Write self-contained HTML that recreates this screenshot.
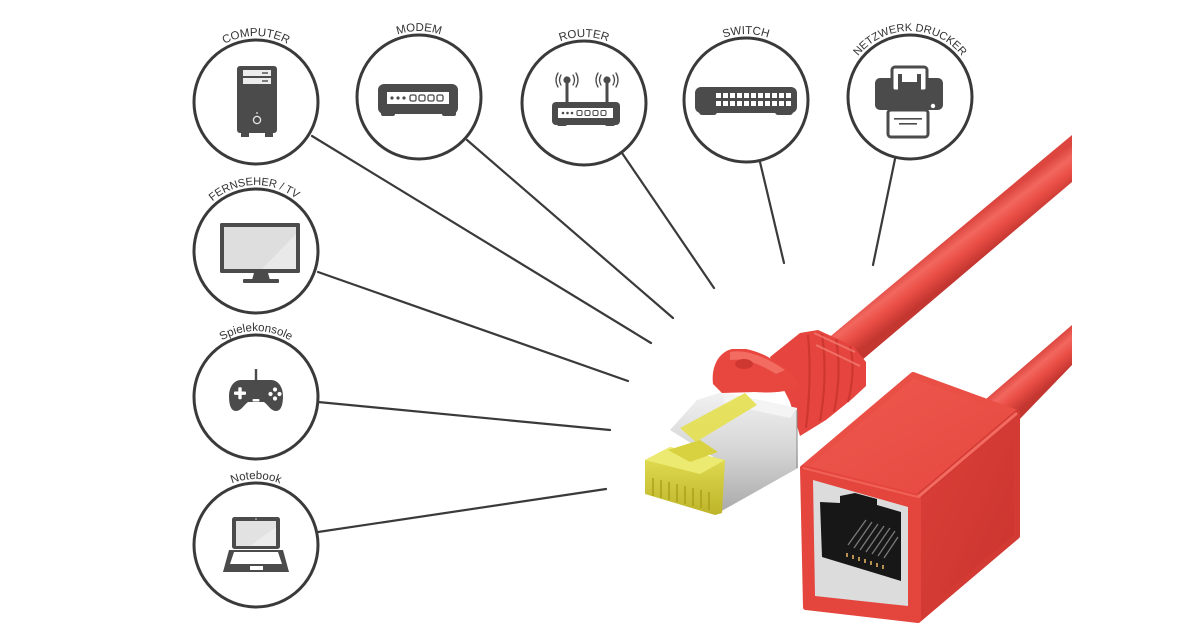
<!DOCTYPE html>
<html>
<head>
<meta charset="utf-8">
<style>
html,body{margin:0;padding:0;background:#fff;}
svg{display:block;}
.lbl{font-family:"Liberation Sans",sans-serif;font-size:11.5px;fill:#333;}
</style>
</head>
<body>
<svg width="1200" height="630" viewBox="0 0 1200 630" xmlns="http://www.w3.org/2000/svg">
<defs>
  <path id="a1" d="M190,102 A66,66 0 0 1 322,102"/>
  <path id="a2" d="M353,97 A66,66 0 0 1 485,97"/>
  <path id="a3" d="M518,103 A66,66 0 0 1 650,103"/>
  <path id="a4" d="M680,100 A66,66 0 0 1 812,100"/>
  <path id="a5" d="M844,97 A66,66 0 0 1 976,97"/>
  <path id="a6" d="M190,251 A66,66 0 0 1 322,251"/>
  <path id="a7" d="M190,397 A66,66 0 0 1 322,397"/>
  <path id="a8" d="M190,545 A66,66 0 0 1 322,545"/>
  <linearGradient id="cab1" gradientUnits="userSpaceOnUse" x1="950" y1="236" x2="972" y2="265">
    <stop offset="0" stop-color="#dc463f"/>
    <stop offset="0.3" stop-color="#f2675e"/>
    <stop offset="0.6" stop-color="#ea4e45"/>
    <stop offset="1" stop-color="#c43630"/>
  </linearGradient>
  <linearGradient id="cab2" gradientUnits="userSpaceOnUse" x1="1040" y1="352" x2="1060" y2="376">
    <stop offset="0" stop-color="#dc463f"/>
    <stop offset="0.3" stop-color="#f2675e"/>
    <stop offset="0.6" stop-color="#ea4e45"/>
    <stop offset="1" stop-color="#c43630"/>
  </linearGradient>
  <linearGradient id="topf" x1="0" y1="0" x2="1" y2="1">
    <stop offset="0" stop-color="#ee5a50"/>
    <stop offset="1" stop-color="#e6473f"/>
  </linearGradient>
  <linearGradient id="rightf" x1="0" y1="0" x2="1" y2="1">
    <stop offset="0" stop-color="#dc4038"/>
    <stop offset="1" stop-color="#c8342e"/>
  </linearGradient>
  <linearGradient id="silver" x1="0" y1="0" x2="0" y2="1">
    <stop offset="0" stop-color="#f2f2f2"/>
    <stop offset="0.5" stop-color="#d4d4d4"/>
    <stop offset="1" stop-color="#a9a9a9"/>
  </linearGradient>
  <linearGradient id="yel" x1="0" y1="0" x2="0" y2="1">
    <stop offset="0" stop-color="#e6e25a"/>
    <stop offset="1" stop-color="#bdb428"/>
  </linearGradient>
</defs>

<!-- connector lines -->
<g stroke="#3a3a3a" stroke-width="2.2" stroke-linecap="round" fill="none">
  <line x1="312" y1="136" x2="651" y2="343"/>
  <line x1="467" y1="140" x2="673" y2="318"/>
  <line x1="622" y1="153" x2="714" y2="288"/>
  <line x1="760" y1="162" x2="784" y2="263"/>
  <line x1="895" y1="159" x2="873" y2="265"/>
  <line x1="318" y1="272" x2="628" y2="381"/>
  <line x1="318" y1="402" x2="610" y2="430"/>
  <line x1="318" y1="532" x2="606" y2="489"/>
</g>

<!-- circles -->
<g stroke="#3a3a3a" stroke-width="3" fill="#fff">
  <circle cx="256" cy="102" r="62"/>
  <circle cx="419" cy="97" r="62"/>
  <circle cx="584" cy="103" r="62"/>
  <circle cx="746" cy="100" r="62"/>
  <circle cx="910" cy="97" r="62"/>
  <circle cx="256" cy="251" r="62"/>
  <circle cx="256" cy="397" r="62"/>
  <circle cx="256" cy="545" r="62"/>
</g>

<!-- labels -->
<text class="lbl"><textPath href="#a1" startOffset="50%" text-anchor="middle">COMPUTER</textPath></text>
<text class="lbl"><textPath href="#a2" startOffset="50%" text-anchor="middle">MODEM</textPath></text>
<text class="lbl"><textPath href="#a3" startOffset="50%" text-anchor="middle">ROUTER</textPath></text>
<text class="lbl"><textPath href="#a4" startOffset="50%" text-anchor="middle">SWITCH</textPath></text>
<text class="lbl" style="font-size:11px"><textPath href="#a5" startOffset="50%" text-anchor="middle">NETZWERK  DRUCKER</textPath></text>
<text class="lbl" style="font-size:11px"><textPath href="#a6" startOffset="49%" text-anchor="middle">FERNSEHER / TV</textPath></text>
<text class="lbl"><textPath href="#a7" startOffset="50%" text-anchor="middle">Spielekonsole</textPath></text>
<text class="lbl"><textPath href="#a8" startOffset="50%" text-anchor="middle">Notebook</textPath></text>

<!-- icons -->
<g fill="#4b4b4b">
  <!-- computer -->
  <rect x="237" y="66" width="40" height="67" rx="3"/>
  <rect x="241" y="133" width="8" height="4"/>
  <rect x="265" y="133" width="8" height="4"/>
  <rect x="243" y="70" width="28" height="6" fill="#ececec"/>
  <rect x="243" y="78" width="28" height="6" fill="#ececec"/>
  <rect x="262" y="72.3" width="6" height="1.4"/>
  <rect x="262" y="80.3" width="6" height="1.4"/>
  <circle cx="257" cy="120" r="3.6" fill="none" stroke="#e6e6e6" stroke-width="1.3"/>
  <circle cx="257" cy="113" r="0.9" fill="#e6e6e6"/>

  <!-- modem -->
  <rect x="378" y="84" width="80" height="30" rx="6"/>
  <rect x="381" y="110" width="14" height="6" rx="2"/>
  <rect x="442" y="110" width="14" height="6" rx="2"/>
  <rect x="387" y="92" width="62" height="12" fill="#fff"/>
  <circle cx="392" cy="98" r="1.6"/>
  <circle cx="398" cy="98" r="1.6"/>
  <circle cx="404" cy="98" r="1.6"/>
  <g fill="none" stroke="#4b4b4b" stroke-width="1.3">
    <rect x="410" y="95" width="6" height="6" rx="1.5"/>
    <rect x="419" y="95" width="6" height="6" rx="1.5"/>
    <rect x="428" y="95" width="6" height="6" rx="1.5"/>
    <rect x="437" y="95" width="6" height="6" rx="1.5"/>
  </g>

  <!-- router -->
  <rect x="552" y="102" width="68" height="23" rx="4"/>
  <rect x="557" y="121" width="10" height="5" rx="2"/>
  <rect x="605" y="121" width="10" height="5" rx="2"/>
  <rect x="558" y="108" width="55" height="10" fill="#fff"/>
  <circle cx="563" cy="113" r="1.3"/>
  <circle cx="567.5" cy="113" r="1.3"/>
  <circle cx="572" cy="113" r="1.3"/>
  <g fill="none" stroke="#4b4b4b" stroke-width="1.1">
    <rect x="577" y="110.5" width="5" height="5" rx="1.2"/>
    <rect x="585" y="110.5" width="5" height="5" rx="1.2"/>
    <rect x="593" y="110.5" width="5" height="5" rx="1.2"/>
    <rect x="601" y="110.5" width="5" height="5" rx="1.2"/>
  </g>
  <rect x="565.5" y="80" width="3" height="23"/>
  <rect x="605.5" y="80" width="3" height="23"/>
  <circle cx="567" cy="80" r="3.6"/>
  <circle cx="607" cy="80" r="3.6"/>
  <g fill="none" stroke="#4b4b4b" stroke-width="1.3" stroke-linecap="round">
    <path d="M561,75 Q558,80 561,85"/><path d="M558,73 Q554,80 558,87"/>
    <path d="M573,75 Q576,80 573,85"/><path d="M576,73 Q580,80 576,87"/>
    <path d="M601,75 Q598,80 601,85"/><path d="M598,73 Q594,80 598,87"/>
    <path d="M613,75 Q616,80 613,85"/><path d="M616,73 Q620,80 616,87"/>
  </g>

  <!-- switch -->
  <rect x="695" y="87" width="102" height="26" rx="6"/>
  <rect x="699" y="108" width="18" height="7" rx="3"/>
  <rect x="775" y="108" width="18" height="7" rx="3"/>
  <g fill="#fff">
    <rect x="716" y="93" width="5" height="5"/><rect x="723" y="93" width="5" height="5"/><rect x="730" y="93" width="5" height="5"/><rect x="737" y="93" width="5" height="5"/><rect x="744" y="93" width="5" height="5"/><rect x="751" y="93" width="5" height="5"/><rect x="758" y="93" width="5" height="5"/><rect x="765" y="93" width="5" height="5"/><rect x="772" y="93" width="5" height="5"/><rect x="779" y="93" width="5" height="5"/><rect x="786" y="93" width="5" height="5"/>
    <rect x="716" y="101" width="5" height="5"/><rect x="723" y="101" width="5" height="5"/><rect x="730" y="101" width="5" height="5"/><rect x="737" y="101" width="5" height="5"/><rect x="744" y="101" width="5" height="5"/><rect x="751" y="101" width="5" height="5"/><rect x="758" y="101" width="5" height="5"/><rect x="765" y="101" width="5" height="5"/><rect x="772" y="101" width="5" height="5"/><rect x="779" y="101" width="5" height="5"/><rect x="786" y="101" width="5" height="5"/>
  </g>

  <!-- printer -->
  <rect x="875" y="78" width="68" height="32" rx="5"/>
  <rect x="892" y="67" width="35" height="24" rx="3" fill="#fff" stroke="#4b4b4b" stroke-width="3"/>
  <rect x="898" y="74" width="4" height="16"/>
  <rect x="917" y="74" width="4" height="16"/>
  <rect x="902" y="82" width="15" height="8"/>
  <circle cx="933" cy="106" r="2.2" fill="#fff"/>
  <rect x="888" y="110" width="40" height="27" rx="3" fill="#fff" stroke="#4b4b4b" stroke-width="3"/>
  <rect x="894" y="118" width="28" height="1.6"/>
  <rect x="899" y="123" width="18" height="1.6"/>

  <!-- tv -->
  <rect x="220" y="223" width="80" height="50" rx="1.5"/>
  <rect x="224" y="227" width="72" height="42" fill="#dedede"/>
  <polygon points="262,269 296,234 296,269" fill="#e9e9e9"/>
  <polygon points="254,273 268,273 270,280 252,280"/>
  <rect x="243" y="279" width="36" height="4" rx="1"/>

  <!-- controller -->
  <rect x="254.8" y="369" width="2.4" height="12"/>
  <path d="M241,380 C234,380 229,387 229,396 C229,405 231,411 236,411 C241,411 244,405 248,402 L264,402 C268,405 271,411 276,411 C281,411 283,405 283,396 C283,387 278,380 271,380 Z"/>
  <g fill="#fff">
    <rect x="234" y="391.5" width="12" height="3.4" rx="1"/>
    <rect x="238.3" y="387.2" width="3.4" height="12" rx="1"/>
    <rect x="252.5" y="399" width="7" height="2.5" rx="1"/>
    <circle cx="275" cy="389.5" r="2.1"/>
    <circle cx="275" cy="398.5" r="2.1"/>
    <circle cx="270.5" cy="394" r="2.1"/>
    <circle cx="279.5" cy="394" r="2.1"/>
  </g>

  <!-- notebook -->
  <rect x="232" y="517" width="48" height="32" rx="2.5"/>
  <rect x="236" y="521" width="40" height="25" fill="#e2e2e2"/>
  <polygon points="250,546 276,527 276,546" fill="#ececec"/>
  <circle cx="256" cy="519" r="0.8" fill="#ddd"/>
  <polygon points="229,550 283,550 289,572 223,572"/>
  <polygon points="234,552 278,552 282,564 230,564" fill="#fff"/>
  <rect x="250" y="566" width="13" height="4" fill="#fff"/>
</g>

<!-- lower cable -->
<polygon points="950,430 1072,325 1072,365 990,450" fill="url(#cab2)"/>

<!-- upper cable -->
<polygon points="820,345 1072,135 1072,182 848,372" fill="url(#cab1)"/>

<!-- coupler -->
<g stroke-linejoin="round">
  <polygon points="803,468 913,375 1017,413 918,497" fill="url(#topf)" stroke="#ea4f46" stroke-width="6"/>
  <polygon points="918,497 1017,413 1017,536 918,620" fill="url(#rightf)" stroke="#d23a33" stroke-width="6"/>
  <polygon points="803,468 918,497 918,620 806,607" fill="#e4453d" stroke="#e4453d" stroke-width="6"/>
  <line x1="918" y1="497" x2="1017" y2="413" stroke="#f26a60" stroke-width="3"/>
  <line x1="803" y1="468" x2="918" y2="497" stroke="#f06258" stroke-width="2"/>
</g>
<polygon points="813,480 908,507 908,606 815,596" fill="#dcdcdc"/>
<polygon points="820,502 840,503 840,496 855,493 877,499 877,505 901,512 901,581 822,557" fill="#171717"/>
<g stroke="#7a7a7a" stroke-width="1.3">
  <line x1="848" y1="545" x2="866" y2="520"/>
  <line x1="854" y1="548" x2="872" y2="522"/>
  <line x1="860" y1="550" x2="878" y2="524"/>
  <line x1="866" y1="552" x2="884" y2="526"/>
  <line x1="872" y1="554" x2="890" y2="528"/>
  <line x1="878" y1="556" x2="895" y2="531"/>
  <line x1="884" y1="558" x2="898" y2="537"/>
</g>
<g fill="#b89050">
  <rect x="846" y="553" width="2" height="4"/><rect x="852" y="555" width="2" height="4"/><rect x="858" y="557" width="2" height="4"/><rect x="864" y="559" width="2" height="4"/><rect x="870" y="561" width="2" height="4"/><rect x="876" y="563" width="2" height="4"/><rect x="882" y="565" width="2" height="4"/>
</g>

<!-- boot -->
<polygon points="770,357 800,333 818,330 853,346 866,362 866,386 852,399 826,420 800,436 790,402 780,382" fill="#e5453e"/>
<g stroke="#c9332d" stroke-width="2.2" fill="none" opacity="0.8">
  <path d="M808,335 Q812,378 806,428"/>
  <path d="M822,334 Q828,375 820,421"/>
  <path d="M836,339 Q842,372 834,412"/>
  <path d="M850,346 Q856,370 848,402"/>
</g>
<g stroke="#f37a70" stroke-width="2" fill="none" opacity="0.8">
  <path d="M814,333 L855,352"/>
  <path d="M816,345 L860,366"/>
</g>

<!-- silver shield -->
<polygon points="670,430 697,400 722,392 797,408 798,468 718,513 723,463" fill="url(#silver)"/>
<polygon points="722,392 797,408 790,418 725,404" fill="#f4f4f4"/>
<line x1="797" y1="410" x2="797" y2="468" stroke="#888" stroke-width="1"/>

<!-- latch -->
<path d="M713,384 C711,366 719,352 732,349 L746,349 C762,352 777,361 792,374 L799,386 C786,393 770,393 755,392 L722,393 Z" fill="#e8473f"/>
<path d="M730,352 C745,349 765,356 785,370 L776,374 C760,364 745,358 730,360 Z" fill="#f26c62"/>
<ellipse cx="744" cy="364" rx="9" ry="5" fill="#cf3731"/>

<!-- yellow front -->
<polygon points="680,428 745,393 757,405 696,442" fill="#e4e050" opacity="0.9"/>
<polygon points="645,460 670,447 725,460 722,513 715,515 645,494" fill="url(#yel)"/>
<polygon points="645,460 670,447 725,460 700,474" fill="#ecea70"/>
<polygon points="668,450 700,440 718,452 690,462" fill="#d8d240"/>
<g stroke="#a89a18" stroke-width="1.3">
  <line x1="653" y1="478" x2="653" y2="496"/>
  <line x1="661" y1="480" x2="661" y2="498"/>
  <line x1="669" y1="482" x2="669" y2="500"/>
  <line x1="677" y1="484" x2="677" y2="502"/>
  <line x1="685" y1="486" x2="685" y2="504"/>
  <line x1="693" y1="488" x2="693" y2="506"/>
  <line x1="701" y1="490" x2="701" y2="508"/>
  <line x1="709" y1="492" x2="709" y2="510"/>
</g>
</svg>
</body>
</html>
